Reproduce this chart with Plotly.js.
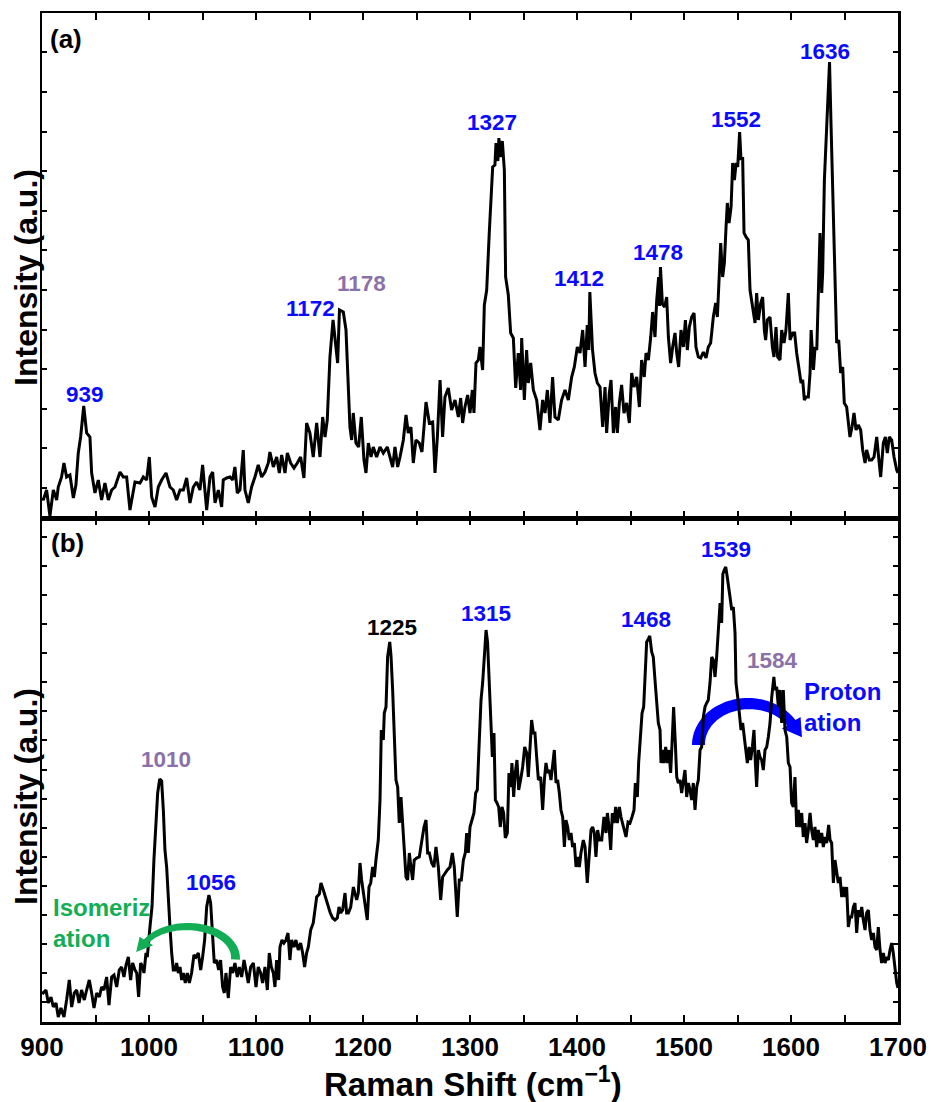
<!DOCTYPE html>
<html>
<head>
<meta charset="utf-8">
<script src="https://cdn.plot.ly/plotly-3.0.1.min.js"></script>
<style>
  html, body { margin: 0; padding: 0; background: #fff; }
  #chart { width: 931px; height: 1102px; }
</style>
</head>
<body>
<div id="chart"></div>
<script>
// ---------- Raman spectra ----------
// (a) upper spectrum
const ramanShiftA = [
  900, 901.2, 904.3, 907.4, 910.6, 913.7, 915.2, 918.3, 920.5, 923.0, 926.1, 929.3, 931.7, 933.9, 936.1, 939,
  941.7, 944.8, 946.4, 949.5, 952.6, 955.7, 958.8, 962.0, 965.1, 968.2, 972.9, 976.0, 979.1, 982.2, 986.9, 991.6,
  994.7, 997.8, 1000.3, 1002.5, 1005.6, 1008.7, 1011.8, 1015.9, 1019.6, 1022.7, 1025.8, 1029.0, 1032.1, 1035.2,
  1038.3, 1041.4, 1044.5, 1047.6, 1050.1, 1052.3, 1053.9, 1057.0, 1059.5, 1061.7, 1064.8, 1067.9, 1069.4, 1072.6,
  1075.7, 1078.2, 1080.3, 1082.5, 1085.0, 1088.1, 1089.7, 1092.8, 1095.9, 1099.0, 1102.1, 1105.3, 1108.4, 1111.5,
  1113.0, 1116.2, 1119.3, 1121.8, 1124.0, 1127.1, 1129.3, 1132.4, 1135.5, 1138.6, 1141.7, 1144.8, 1147.3, 1150.4,
  1153.5, 1156.7, 1159.8, 1162.3, 1164.5, 1166.6, 1169.1, 1172, 1176.3, 1178, 1181.6, 1184.1, 1186.3, 1187.8,
  1189.4, 1190.9, 1193.4, 1195.9, 1198.4, 1200.9, 1202.8, 1205.0, 1207.5, 1209.6, 1212.7, 1215.9, 1219.0, 1222.7,
  1225.2, 1227.7, 1229.9, 1232.4, 1234.6, 1237.7, 1240.2, 1242.3, 1244.8, 1247.0, 1249.5, 1252.6, 1255.1, 1258.9,
  1262.0, 1265.1, 1267.3, 1269.5, 1272.0, 1274.4, 1276.6, 1279.7, 1282.8, 1286.0, 1289.1, 1291.3, 1293.1, 1295.3,
  1297.8, 1300.0, 1302.2, 1303.7, 1305.6, 1307.8, 1309.3, 1311.8, 1313.4, 1315.6, 1318.0, 1321.2, 1323.3, 1324.3,
  1326.0, 1327, 1328.4, 1330.2, 1332.1, 1333.3, 1335.8, 1338.0, 1340.5, 1342.7, 1345.1, 1347.3, 1348.3, 1350.8,
  1352.9, 1354.5, 1356.7, 1359.2, 1362.3, 1365.4, 1367.9, 1370.1, 1372.3, 1374.7, 1377.2, 1379.4, 1382.5, 1385.6,
  1388.8, 1391.9, 1395.0, 1397.5, 1400.3, 1402.8, 1405.3, 1407.5, 1409.6, 1411.0, 1412, 1414.5, 1416.8, 1419.0,
  1421.5, 1424.0, 1426.2, 1427.7, 1430.2, 1431.8, 1434.0, 1436.1, 1437.7, 1439.6, 1441.7, 1443.9, 1446.4, 1448.9,
  1451.1, 1453.3, 1455.8, 1458.3, 1460.4, 1462.9, 1464.5, 1466.7, 1468.9, 1470.7, 1472.9, 1474.5, 1476.3, 1477.2,
  1478, 1479.8, 1481.9, 1483.8, 1485.4, 1487.5, 1489.4, 1491.6, 1493.2, 1495.0, 1497.2, 1499.4, 1501.3, 1503.1,
  1505.0, 1507.2, 1509.4, 1511.2, 1513.4, 1515.6, 1518.1, 1520.6, 1522.7, 1524.9, 1527.4, 1529.6, 1531.2, 1533.0,
  1534.3, 1536.1, 1537.7, 1539.3, 1540.5, 1542.1, 1544.0, 1545.5, 1547.1, 1548.7, 1550.2, 1552, 1553.3, 1554.8,
  1556.1, 1558.0, 1560.1, 1561.7, 1563.2, 1564.8, 1566.4, 1567.9, 1569.5, 1571.7, 1573.5, 1575.1, 1576.3, 1577.9,
  1580.4, 1582.6, 1584.1, 1586.0, 1587.5, 1589.7, 1591.3, 1593.5, 1595.3, 1597.5, 1599.1, 1601.6, 1603.4, 1605.3,
  1607.5, 1609.4, 1610.9, 1612.5, 1614.0, 1616.2, 1617.8, 1618.8, 1621.0, 1622.5, 1624.1, 1625.6, 1627.1, 1628.7,
  1629.6, 1631.2, 1632.7, 1634.3, 1636, 1637.3, 1638.6, 1640.2, 1641.7, 1642.7, 1644.6, 1646.4, 1648.3, 1649.8,
  1652.0, 1653.6, 1655.1, 1657.0, 1658.9, 1660.8, 1662.9, 1665.1, 1667.0, 1669.2, 1670.7, 1673.2, 1675.4, 1677.6,
  1680.1, 1681.9, 1683.8, 1686.3, 1688.2, 1690.0, 1691.9, 1694.1, 1696.3, 1698.8, 1700
];
const intensityA = [
  20, 18, 28, 2, 28, 18, 31, 41, 55, 41, 43, 20, 33, 65, 81, 112,
  85, 81, 45, 25, 38, 18, 35, 18, 28, 31, 46, 41, 41, 8, 36, 35,
  41, 38, 61, 21, 11, 31, 38, 45, 31, 28, 18, 28, 28, 40,
  15, 31, 36, 28, 53, 25, 8, 41, 46, 15, 28, 11, 38, 40,
  41, 38, 51, 25, 28, 68, 28, 15, 31, 41, 53, 41, 46, 55,
  66, 51, 61, 45, 63, 45, 65, 55, 50, 55, 61, 40, 95, 85,
  61, 95, 61, 101, 81, 98, 161, 198, 155, 208, 206, 188, 135, 91,
  78, 105, 75, 71, 101, 58, 45, 75, 61, 71, 61, 71, 65, 71,
  61, 51, 71, 51, 61, 78, 103, 85, 91, 55, 78, 75, 66, 116,
  95, 96, 45, 81, 138, 81, 121, 130, 108, 118, 101, 120, 95, 111,
  123, 105, 128, 105, 155, 158, 171, 148, 213, 228, 285, 351, 353, 375,
  357, 380, 361, 377, 348, 241, 223, 185, 180, 130, 165, 128, 180, 118,
  168, 135, 155, 128, 118, 88, 118, 105, 128, 95, 141, 101, 98, 118,
  128, 118, 141, 151, 171, 165, 188, 151, 193, 168, 226, 168, 145, 135,
  131, 91, 131, 85, 125, 138, 85, 111, 85, 115, 133, 105, 115, 95,
  145, 131, 141, 111, 158, 141, 165, 158, 181, 206, 181, 218, 241, 212,
  251, 214, 211, 221, 181, 155, 171, 185, 165, 151, 188, 171, 198, 168,
  191, 201, 205, 171, 161, 160, 166, 160, 171, 175, 201, 215, 201, 245,
  275, 241, 255, 291, 315, 295, 311, 355, 338, 355, 351, 386, 358, 361,
  285, 281, 278, 228, 218, 205, 195, 225, 198, 215, 221, 188, 178, 198,
  201, 171, 161, 191, 161, 158, 188, 175, 188, 225, 178, 185, 185, 165,
  151, 135, 138, 118, 121, 121, 145, 188, 148, 171, 168, 218, 285, 225,
  245, 338, 378, 428, 456, 398, 338, 271, 215, 175, 178, 145, 151, 115,
  111, 95, 81, 91, 105, 88, 93, 88, 68, 55, 68, 58, 58, 61,
  81, 61, 41, 75, 81, 65, 81, 78, 61, 48, 45
];

// (b) lower spectrum
const ramanShiftB = [
  900, 901.2, 903.7, 905.9, 908.4, 910.6, 913.1, 915.2, 917.7, 920.5, 923.0, 925.5, 927.7, 930.2, 932.4, 934.6,
  937.0, 939.5, 941.7, 944.2, 946.4, 948.6, 951.1, 953.6, 955.7, 957.9, 960.4, 962.6, 965.1, 967.3, 969.8, 972.2,
  974.4, 976.6, 978.5, 980.7, 982.8, 984.7, 986.9, 988.5, 990.3, 992.2, 994.1, 995.3, 997.2, 998.4, 1000.9, 1002.8,
  1004.6, 1006.5, 1008.1, 1010, 1011.8, 1013.4, 1014.9, 1016.5, 1018.0, 1019.6, 1021.2, 1022.7, 1024.3, 1025.8,
  1027.4, 1029.0, 1030.5, 1032.1, 1033.9, 1035.8, 1037.7, 1039.8, 1042.0, 1043.9, 1046.1, 1048.3, 1050.1, 1052.0,
  1053.9, 1056, 1057.6, 1059.5, 1061.0, 1063.2, 1065.1, 1066.9, 1068.8, 1070.4, 1071.9, 1074.1, 1076.3, 1078.2,
  1080.3, 1082.5, 1084.4, 1086.6, 1088.8, 1090.6, 1092.8, 1095.0, 1097.5, 1100.0, 1102.1, 1104.3, 1106.2, 1108.4,
  1110.6, 1112.4, 1114.3, 1116.2, 1117.7, 1119.3, 1121.2, 1122.4, 1124.3, 1126.1, 1128.0, 1129.9, 1131.7, 1133.3,
  1135.5, 1137.3, 1139.5, 1141.7, 1143.6, 1145.4, 1147.3, 1148.9, 1151.1, 1153.5, 1155.1, 1156.7, 1159.2, 1160.7,
  1162.9, 1165.0, 1167.3, 1169.4, 1171.6, 1173.8, 1176.0, 1177.6, 1179.1, 1181.0, 1183.2, 1184.7, 1186.3, 1188.5,
  1191.0, 1192.5, 1194.1, 1195.6, 1197.2, 1198.7, 1200.3, 1202.5, 1204.0, 1205.6, 1207.2, 1209.0, 1210.6, 1212.1,
  1214.3, 1215.9, 1217.1, 1219.0, 1219.9, 1221.5, 1223.0, 1225, 1226.2, 1227.7, 1229.3, 1230.8, 1232.4, 1233.9,
  1235.5, 1237.1, 1238.6, 1240.2, 1241.7, 1243.3, 1244.8, 1246.4, 1247.9, 1250.1, 1252.6, 1254.8, 1257.0, 1258.9,
  1260.4, 1262.0, 1264.2, 1266.3, 1268.2, 1270.4, 1272.6, 1274.4, 1276.6, 1278.8, 1281.3, 1283.5, 1285.3, 1286.9,
  1288.1, 1290.0, 1291.9, 1293.8, 1295.6, 1296.9, 1298.4, 1300.0, 1301.9, 1303.7, 1305.3, 1306.8, 1308.7, 1310.3,
  1311.8, 1313.4, 1315, 1316.4, 1317.7, 1319.3, 1320.9, 1322.4, 1323.7, 1325.2, 1326.8, 1328.3, 1329.9, 1331.4,
  1333.0, 1334.9, 1336.4, 1338.0, 1339.2, 1340.8, 1342.3, 1343.9, 1345.5, 1347.3, 1349.2, 1351.1, 1353.0, 1354.5,
  1356.1, 1357.6, 1359.2, 1360.7, 1362.3, 1363.9, 1366.0, 1367.9, 1369.5, 1371.0, 1372.6, 1374.1, 1375.7, 1377.3,
  1378.8, 1380.4, 1381.9, 1383.5, 1385.0, 1386.6, 1388.2, 1389.7, 1391.3, 1392.8, 1394.4, 1395.9, 1397.5, 1399.1,
  1400.6, 1402.2, 1403.7, 1405.9, 1407.5, 1409.6, 1411.5, 1413.1, 1414.6, 1416.2, 1417.7, 1419.3, 1420.9, 1423.1,
  1425.2, 1427.1, 1428.4, 1430.2, 1431.5, 1433.0, 1434.6, 1436.1, 1437.7, 1439.6, 1441.1, 1442.7, 1444.2, 1445.8,
  1447.7, 1449.5, 1451.4, 1453.3, 1454.5, 1456.4, 1457.6, 1459.2, 1460.8, 1462.3, 1463.6, 1465.1, 1466.7, 1468,
  1469.8, 1471.3, 1472.9, 1474.5, 1476.0, 1477.6, 1478.5, 1480.1, 1481.3, 1482.9, 1484.4, 1486.0, 1487.5, 1489.1,
  1490.3, 1491.9, 1493.2, 1494.7, 1496.3, 1497.8, 1499.4, 1500.9, 1502.5, 1504.1, 1505.6, 1507.2, 1508.7, 1510.3,
  1511.9, 1513.4, 1515.0, 1516.5, 1518.1, 1519.6, 1521.2, 1522.7, 1524.3, 1525.9, 1527.4, 1529.0, 1530.5, 1532.1,
  1533.7, 1535.2, 1536.3, 1537.6, 1539, 1540.3, 1541.4, 1543.0, 1544.6, 1546.1, 1547.7, 1548.6, 1550.2, 1551.7,
  1553.3, 1554.8, 1556.4, 1558.0, 1559.2, 1560.8, 1562.3, 1563.9, 1565.4, 1566.7, 1567.9, 1569.5, 1571.0, 1572.6,
  1574.1, 1575.7, 1577.3, 1578.8, 1580.4, 1582.0, 1584, 1585.1, 1586.6, 1588.2, 1589.7, 1591.3, 1592.8, 1594.4,
  1596.0, 1597.5, 1599.1, 1600.6, 1602.2, 1603.7, 1605.3, 1606.8, 1608.4, 1610.0, 1611.5, 1613.1, 1614.6, 1616.2,
  1617.8, 1619.3, 1620.9, 1622.4, 1624.0, 1625.5, 1627.1, 1628.7, 1630.2, 1631.8, 1633.3, 1635.2, 1636.5, 1638.0,
  1639.6, 1641.1, 1642.7, 1644.2, 1645.8, 1647.4, 1648.9, 1650.5, 1652.0, 1653.6, 1655.1, 1656.7, 1658.3, 1659.8,
  1661.4, 1662.9, 1664.5, 1666.1, 1667.6, 1669.2, 1670.7, 1672.3, 1673.8, 1675.4, 1677.0, 1678.5, 1680.1, 1681.6,
  1683.2, 1684.7, 1686.3, 1687.9, 1689.4, 1691.0, 1692.5, 1694.1, 1695.6, 1697.2, 1698.8, 1700
];
const intensityB = [
  30, 29, 32, 19, 25, 15, 19, 5, 14, 5, 22, 42, 15, 29, 32, 19,
  32, 22, 32, 42, 29, 14, 29, 25, 35, 32, 45, 17, 45, 47, 35, 52,
  55, 45, 57, 65, 42, 59, 52, 49, 25, 59, 55, 49, 69, 65, 95, 115,
  162, 195, 229, 243, 241, 212, 172, 155, 122, 95, 69, 52, 52, 59,
  49, 55, 42, 49, 39, 49, 39, 49, 67, 65, 69, 52, 65, 82,
  115, 127, 119, 89, 59, 62, 52, 62, 35, 29, 49, 24, 55, 49,
  59, 45, 55, 45, 62, 52, 39, 55, 59, 35, 55, 49, 39, 55,
  32, 69, 55, 49, 35, 62, 42, 75, 82, 79, 82, 89, 62, 82,
  75, 82, 72, 79, 69, 55, 69, 75, 92, 99, 115, 125, 128, 139,
  132, 124, 115, 109, 104, 102, 104, 115, 109, 112, 129, 109, 109, 115,
  135, 129, 122, 129, 159, 142, 129, 109, 102, 135, 139, 155, 145, 162,
  182, 222, 292, 282, 309, 315, 365, 380, 366, 332, 289, 242, 235, 199,
  225, 195, 169, 145, 142, 169, 155, 142, 162, 164, 165, 182, 195, 202,
  169, 169, 159, 155, 175, 155, 122, 145, 149, 152, 155, 169, 155, 129,
  105, 142, 142, 162, 169, 189, 169, 195, 202, 209, 229, 232, 282, 322,
  339, 372, 392, 380, 345, 305, 265, 289, 222, 219, 215, 195, 215, 209,
  184, 189, 249, 235, 259, 225, 249, 262, 232, 242, 255, 275, 269, 245,
  282, 302, 289, 289, 265, 242, 245, 212, 242, 259, 249, 252, 242, 255,
  272, 239, 242, 229, 212, 205, 175, 202, 195, 182, 189, 175, 179, 155,
  165, 155, 169, 182, 175, 139, 175, 192, 195, 189, 165, 192, 182, 182,
  205, 189, 209, 192, 172, 209, 199, 215, 199, 215, 205, 199, 192, 185,
  200, 199, 205, 212, 239, 225, 259, 285, 309, 315, 345, 380, 383, 386,
  370, 365, 342, 322, 299, 292, 259, 272, 259, 275, 259, 272, 249, 285,
  315, 279, 245, 239, 242, 229, 239, 252, 225, 239, 232, 222, 239, 212,
  235, 242, 272, 275, 305, 315, 319, 322, 339, 365, 362, 345, 365, 392,
  419, 399, 448, 452, 455, 446, 439, 425, 412, 415, 389, 339, 325, 309,
  292, 299, 282, 272, 259, 275, 262, 275, 292, 259, 235, 272, 265, 262,
  252, 272, 275, 285, 299, 325, 345, 332, 335, 315, 332, 299, 332, 292,
  285, 259, 255, 219, 215, 245, 195, 212, 195, 209, 185, 199, 179, 192,
  209, 192, 182, 195, 175, 192, 179, 189, 175, 185, 179, 197, 182, 179,
  139, 162, 152, 139, 145, 125, 135, 125, 135, 95, 105, 105, 115, 119,
  89, 112, 105, 115, 102, 92, 109, 112, 92, 82, 89, 75, 72, 95,
  72, 59, 69, 59, 65, 62, 72, 79, 69, 52, 39, 34
];

// Labelled band positions (cm^-1)
const peaksA = [939, 1172, 1178, 1327, 1412, 1478, 1552, 1636];
const peaksB = [1010, 1056, 1225, 1315, 1468, 1539, 1584];
const processLabels = ['Isomeriz<br>ation', 'Proton<br>ation'];
const panelTags = ['(a)', '(b)'];

// ---------- styling ----------
const FONT = 'Liberation Sans, Arial, Helvetica, sans-serif';
const BLUE = '#0a0aff';
const PURPLE = '#8a71a8';
const GREEN = '#13ad55';
const KX = 856 / 800;   // px per cm^-1 on the x axis

// label placement: [dx from band, vertical centre, colour]
const labelStyleA = {
  939:  [1, 124, BLUE],  1172: [-21.5, 210, BLUE], 1178: [21, 235, PURPLE],
  1327: [-6, 396, BLUE], 1412: [-9.7, 240, BLUE],  1478: [-2, 266, BLUE],
  1552: [-3.2, 399, BLUE], 1636: [-4.2, 467, BLUE]
};
const labelStyleB = {
  1010: [5.7, 263, PURPLE], 1056: [1.8, 140, BLUE], 1225: [1.8, 394.5, '#000000'],
  1315: [0.1, 409, BLUE],   1468: [-3.8, 403, BLUE], 1539: [0.6, 473, BLUE],
  1584: [-1, 362, PURPLE]
};

function peakLabel(v, st, xref, yref) {
  return {
    x: v + st[0], y: st[1], xref: xref, yref: yref,
    text: String(v), showarrow: false,
    xanchor: 'center', yanchor: 'middle',
    font: {family: FONT, size: 22.5, color: st[2], weight: 'bold'}
  };
}

// Curved band arrow built as a filled outline (data coordinates of panel b)
function bandArrow(o) {
  const n = 60;
  const outer = [], inner = [];
  const rad = Math.PI / 180;
  for (let i = 0; i <= n; i++) {
    const t = (o.th0 + (o.th1 - o.th0) * i / n) * rad;
    const w = o.w0 + (o.w1 - o.w0) * i / n;
    outer.push([o.rx * Math.cos(t), -o.ry * Math.sin(t)]);
    inner.push([(o.rx - w) * Math.cos(t), -(o.ry - w) * Math.sin(t)]);
  }
  const t1 = o.th1 * rad;
  const s = Math.sign(o.th1 - o.th0);
  let tx = -o.rx * Math.sin(t1) * s, ty = -o.ry * Math.cos(t1) * s;
  const tl = Math.hypot(tx, ty); tx /= tl; ty /= tl;
  const po = outer[n], pi = inner[n];
  let nx = po[0] - pi[0], ny = po[1] - pi[1];
  const nl = Math.hypot(nx, ny); nx /= nl; ny /= nl;
  const mid = [(po[0] + pi[0]) / 2, (po[1] + pi[1]) / 2];
  const baseO = [po[0] + nx * o.ext, po[1] + ny * o.ext];
  const baseI = [pi[0] - nx * o.ext, pi[1] - ny * o.ext];
  const tip = [mid[0] + tx * o.head, mid[1] + ty * o.head];
  const pts = outer.concat([baseO, tip, baseI], inner.slice().reverse());
  const toData = p => (o.cx + p[0] / KX).toFixed(2) + ',' + (o.cy - p[1]).toFixed(2);
  return 'M' + pts.map(toData).join('L') + 'Z';
}

const traces = [
  {x: ramanShiftA, y: intensityA, xaxis: 'x2', yaxis: 'y2', type: 'scatter', mode: 'lines',
   line: {color: '#000', width: 3}, hoverinfo: 'skip'},
  {x: ramanShiftB, y: intensityB, xaxis: 'x', yaxis: 'y', type: 'scatter', mode: 'lines',
   line: {color: '#000', width: 3}, hoverinfo: 'skip'}
];

const frame = {
  showline: true, linecolor: '#000', linewidth: 2.5, mirror: 'ticks',
  showgrid: false, zeroline: false, ticks: 'inside', tickcolor: '#000'
};

const annotations = [];
peaksA.forEach(v => annotations.push(peakLabel(v, labelStyleA[v], 'x2', 'y2')));
peaksB.forEach(v => annotations.push(peakLabel(v, labelStyleB[v], 'x', 'y')));
annotations.push(
  {x: 908.5, y: 99.5, xref: 'x', yref: 'y', text: processLabels[0], showarrow: false,
   xanchor: 'left', yanchor: 'middle', align: 'left',
   font: {family: FONT, size: 24, color: GREEN, weight: 'bold'}},
  {x: 1610, y: 315, xref: 'x', yref: 'y', text: processLabels[1], showarrow: false,
   xanchor: 'left', yanchor: 'middle', align: 'left',
   font: {family: FONT, size: 24, color: BLUE, weight: 'bold'}},
  {x: 0.028, y: 0.974, xref: 'paper', yref: 'paper', text: panelTags[0], showarrow: false,
   xanchor: 'center', yanchor: 'middle', font: {family: FONT, size: 26, color: '#000', weight: 'bold'}},
  {x: 0.03, y: 0.4747, xref: 'paper', yref: 'paper', text: panelTags[1], showarrow: false,
   xanchor: 'center', yanchor: 'middle', font: {family: FONT, size: 26, color: '#000', weight: 'bold'}},
  {x: -0.0187, y: 0.7384, xref: 'paper', yref: 'paper', text: 'Intensity (a.u.)', textangle: -90,
   showarrow: false, xanchor: 'center', yanchor: 'middle',
   font: {family: FONT, size: 32, color: '#000', weight: 'bold'}},
  {x: -0.0187, y: 0.224, xref: 'paper', yref: 'paper', text: 'Intensity (a.u.)', textangle: -90,
   showarrow: false, xanchor: 'center', yanchor: 'middle',
   font: {family: FONT, size: 32, color: '#000', weight: 'bold'}},
  {x: 0.503, y: -0.0595, xref: 'paper', yref: 'paper', text: 'Raman Shift (cm<sup>\u22121</sup>)',
   showarrow: false, xanchor: 'center', yanchor: 'middle',
   font: {family: FONT, size: 33, color: '#000', weight: 'bold'}}
);

const shapes = [
  // isomerization arrow (green), pointing left
  {type: 'path', xref: 'x', yref: 'y', layer: 'above', fillcolor: GREEN, line: {width: 0},
   path: bandArrow({cx: 1036.4, cy: 64, rx: 52, ry: 35, w0: 9, w1: 6, th0: -3, th1: 148, ext: 5, head: 15})},
  // protonation arrow (blue), pointing right
  {type: 'path', xref: 'x', yref: 'y', layer: 'below', fillcolor: '#0000ff', line: {width: 0},
   path: bandArrow({cx: 1559.8, cy: 277, rx: 56, ry: 47, w0: 13, w1: 10, th0: 180, th1: 32, ext: 6, head: 18})}
];

const layout = {
  width: 931, height: 1102,
  margin: {l: 42, r: 33, t: 13, b: 80, pad: 0},
  paper_bgcolor: '#fff', plot_bgcolor: '#fff',
  showlegend: false,
  font: {family: FONT, color: '#000'},
  xaxis: Object.assign({}, frame, {
    domain: [0, 1], anchor: 'y', range: [900, 1700], tick0: 900, dtick: 100,
    ticklen: 7, tickwidth: 2,
    minor: {dtick: 50, ticks: 'inside', ticklen: 7, tickwidth: 2, tickcolor: '#000', showgrid: false},
    tickfont: {family: FONT, size: 26, color: '#000', weight: 'bold'}
  }),
  yaxis: Object.assign({}, frame, {
    domain: [0, 504 / 1009], anchor: 'x', range: [0, 504], tick0: 20, dtick: 29.06,
    ticklen: 5, tickwidth: 2, showticklabels: false
  }),
  xaxis2: Object.assign({}, frame, {
    domain: [0, 1], anchor: 'y2', range: [900, 1700], tick0: 900, dtick: 100,
    ticklen: 7, tickwidth: 2, showticklabels: false,
    minor: {dtick: 50, ticks: 'inside', ticklen: 7, tickwidth: 2, tickcolor: '#000', showgrid: false}
  }),
  yaxis2: Object.assign({}, frame, {
    domain: [504 / 1009, 1], anchor: 'x2', range: [0, 505], tick0: 30, dtick: 39.6,
    ticklen: 5, tickwidth: 2, showticklabels: false
  }),
  annotations: annotations,
  shapes: shapes
};

Plotly.newPlot('chart', traces, layout, {displayModeBar: false, staticPlot: true});
</script>
</body>
</html>
